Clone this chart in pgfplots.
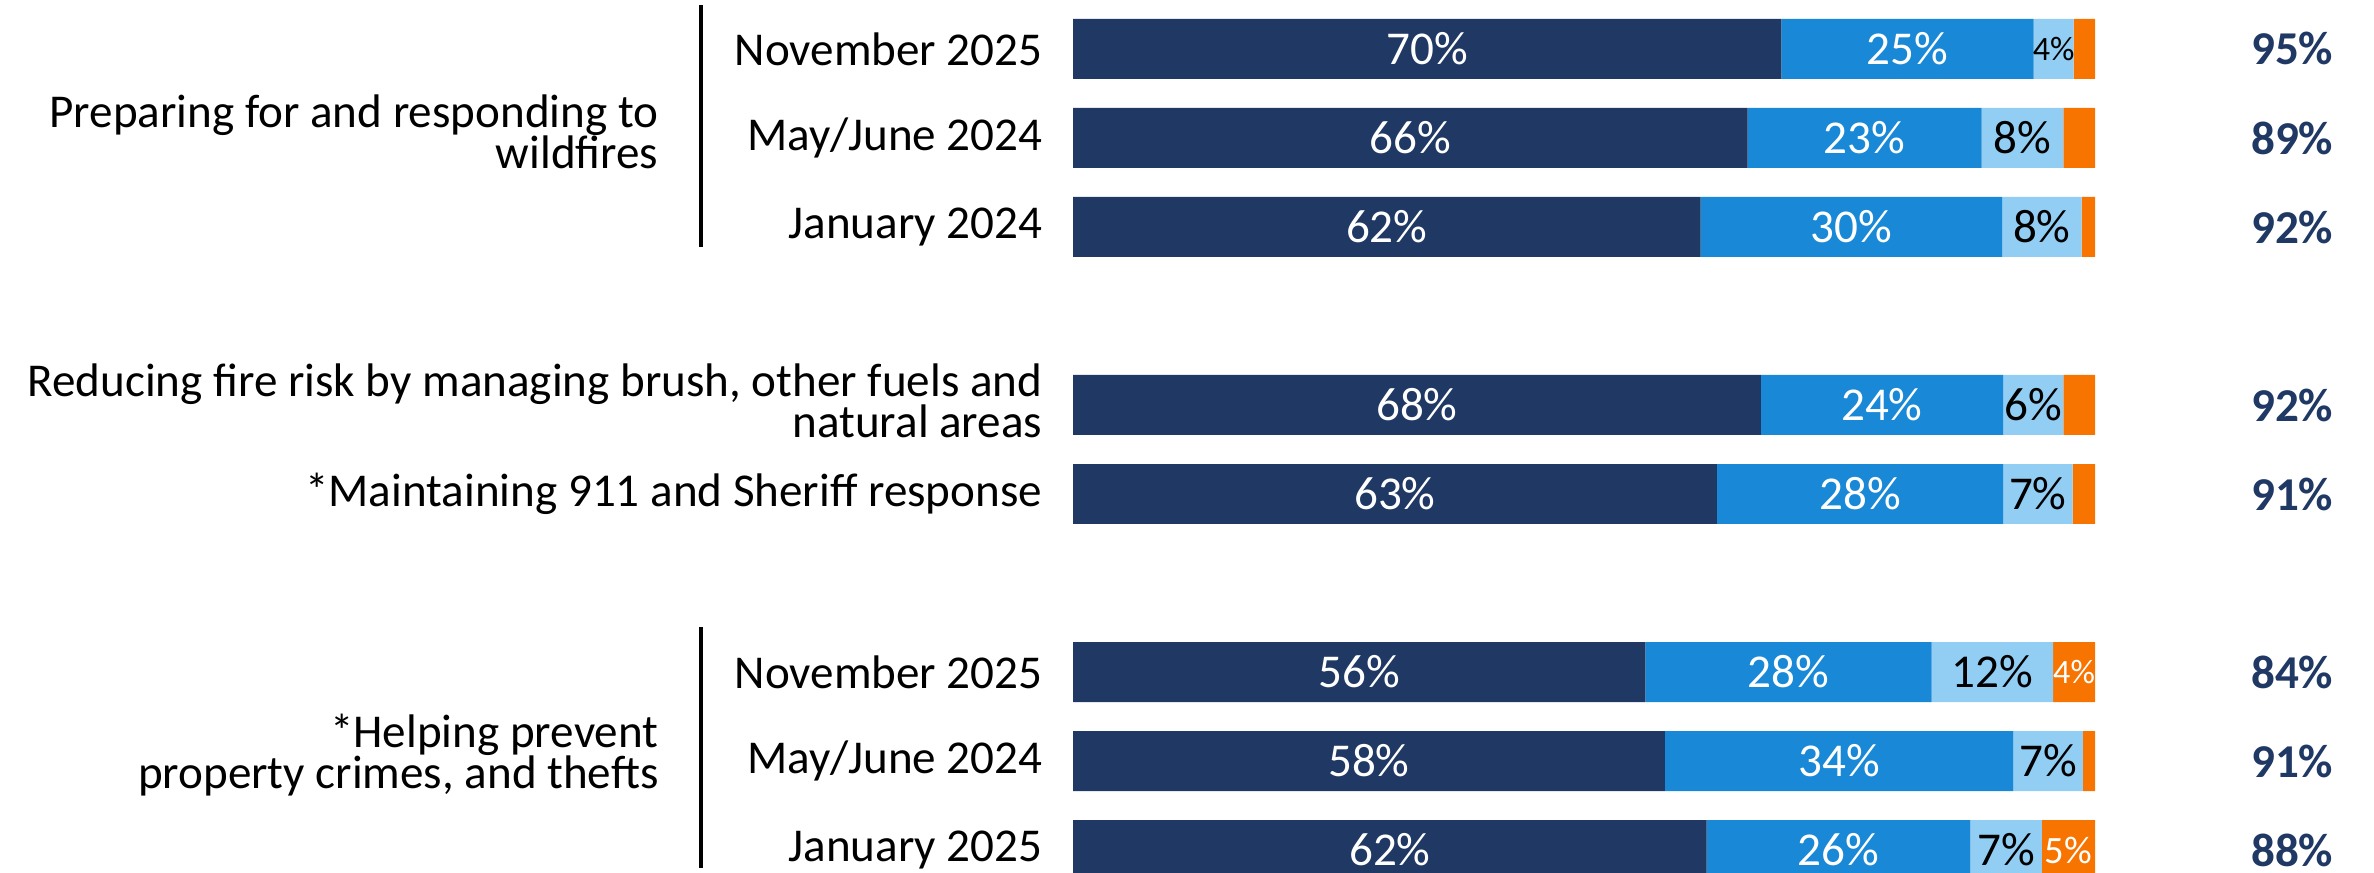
\documentclass[border=0pt]{standalone}
\usepackage{fontspec}
\setmainfont{Carlito}
\usepackage{pgfplots}
\pgfplotsset{compat=1.18}
\definecolor{Navy}{RGB}{31,56,100}
\definecolor{MidBlue}{RGB}{24,136,215}
\definecolor{LightBlue}{RGB}{146,205,244}
\definecolor{Orange}{RGB}{248,116,0}
\newcommand\smallf{\fontsize{9.7}{10}\selectfont}
\newcommand\medf{\fontsize{11}{11}\selectfont}
\newcommand\barf{\fontsize{13.4}{14}\selectfont}
\newcommand\lab{\fontsize{13.4}{11.7}\selectfont}

\begin{document}
\begin{tikzpicture}
\begin{axis}[
  at={(107.3mm,0)}, anchor=south west,
  scale only axis, width=102.2mm, height=87.3mm,
  xbar stacked, bar width=0.674,
  xmin=0, xmax=100, ymin=-0.55, ymax=9.258, y dir=reverse,
  clip=false,
  axis line style={draw=none}, major tick length=0pt,
  xtick=\empty,
  ytick={0,1,2,5,7,8,9},
  yticklabels={November 2025, May/June 2024, January 2024,
    *Maintaining 911 and Sheriff response,
    November 2025, May/June 2024, January 2025},
  yticklabel style={inner sep=0pt, xshift=-3mm, font=\lab},
  nodes near coords, point meta=explicit symbolic,
  visualization depends on={rawx \as \rawx},
  every node near coord/.append style={anchor=center, inner sep=0pt,
    font=\barf, text=white},
]
% dark, mid, light and orange segments
\addplot[fill=Navy, draw=none] coordinates {
  (69.3,0) [70\%] (66.0,1) [66\%] (61.4,2) [62\%]
  (67.3,4) [68\%] (63.0,5) [63\%]
  (56.0,7) [56\%] (57.9,8) [58\%] (62.0,9) [62\%]
};
\addplot[fill=MidBlue, draw=none] coordinates {
  (24.7,0) [25\%] (22.9,1) [23\%] (29.5,2) [30\%]
  (23.7,4) [24\%] (28.0,5) [28\%]
  (28.0,7) [28\%] (34.1,8) [34\%] (25.8,9) [26\%]
};
\addplot[fill=LightBlue, draw=none,
  every node near coord/.append style={text=black,
    font={\ifdim\rawx pt<4.5pt\relax\smallf\else\barf\fi}}] coordinates {
  (3.9,0) [4\%] (8.0,1) [8\%] (7.8,2) [8\%]
  (5.9,4) [6\%] (6.8,5) [7\%]
  (11.9,7) [12\%] (6.8,8) [7\%] (7.0,9) [7\%]
};
\addplot[fill=Orange, draw=none,
  nodes near coords={\ifdim\rawx pt>3.5pt\relax\pgfplotspointmeta\fi},
  every node near coord/.append style={
    font={\ifdim\rawx pt<5pt\relax\smallf\else\medf\fi}}] coordinates {
  (2.1,0) [2\%] (3.1,1) [3\%] (1.3,2) [1\%]
  (3.1,4) [3\%] (2.2,5) [2\%]
  (4.1,7) [4\%] (1.2,8) [1\%] (5.2,9) [5\%]
};

% two-line category label
\node[anchor=east, align=right, inner sep=0pt, font=\lab] at (axis cs:-2.94,3.95)
  {Reducing fire risk by managing brush, other fuels and\\natural areas};

% group brackets and labels
\draw[line width=1pt] (axis cs:-36.4,-0.494) -- (axis cs:-36.4,2.225);
\draw[line width=1pt] (axis cs:-36.4,6.494) -- (axis cs:-36.4,9.2);
\node[anchor=east, align=right, inner sep=0pt, font=\lab] at (axis cs:-40.5,0.93)
  {Preparing for and responding to\\wildfires};
\node[anchor=east, align=right, inner sep=0pt, font=\lab] at (axis cs:-40.5,7.93)
  {*Helping prevent\\property crimes, and thefts};

% totals
\node[font=\bfseries\barf, text=Navy] at (axis cs:119.3,0) {95\%};
\node[font=\bfseries\barf, text=Navy] at (axis cs:119.3,1) {89\%};
\node[font=\bfseries\barf, text=Navy] at (axis cs:119.3,2) {92\%};
\node[font=\bfseries\barf, text=Navy] at (axis cs:119.3,4) {92\%};
\node[font=\bfseries\barf, text=Navy] at (axis cs:119.3,5) {91\%};
\node[font=\bfseries\barf, text=Navy] at (axis cs:119.3,7) {84\%};
\node[font=\bfseries\barf, text=Navy] at (axis cs:119.3,8) {91\%};
\node[font=\bfseries\barf, text=Navy] at (axis cs:119.3,9) {88\%};
\end{axis}
\pgfresetboundingbox
\useasboundingbox (0,0) rectangle (237.4mm,87.3mm);
\end{tikzpicture}
\end{document}
